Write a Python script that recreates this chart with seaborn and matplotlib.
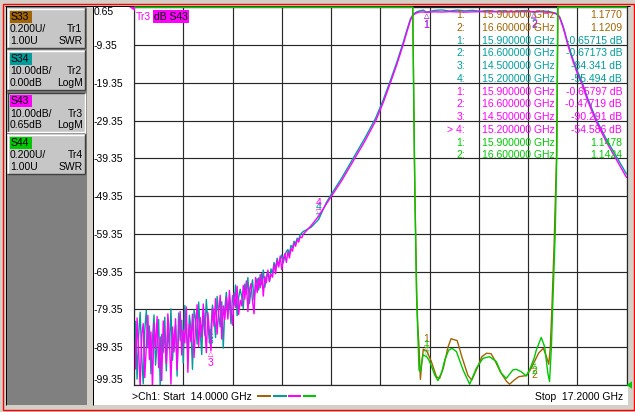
import numpy as np
import matplotlib
matplotlib.use("Agg")
import matplotlib.pyplot as plt
import seaborn as sns
from matplotlib.patches import Rectangle, Polygon

sns.set_theme(style="white")
plt.rcParams["font.family"] = ["Liberation Sans", "DejaVu Sans"]
plt.rcParams["font.size"] = 7.5

# ---------------------------------------------------------------- data
start_ghz, stop_ghz = 14.0, 17.2
noise_step_ghz = 0.01          # linear sweep, 14.00 .. 15.10 GHz

s43_noise_db = [
    -84.2, -95.1, -81.6, -90.3, -99.8, -86.0, -83.1, -97.4, -88.9, -80.9,
    -92.6, -85.3, -100.5, -83.0, -89.7, -81.2, -94.8, -86.6, -98.2, -82.4,
    -88.1, -93.7, -80.5, -86.9, -99.1, -84.0, -90.6, -81.8, -95.3, -85.2,
    -79.9, -91.4, -84.8, -88.2, -78.7, -96.0, -83.3, -87.9, -80.6, -92.1,
    -84.0, -78.1, -89.2, -81.5, -86.7, -77.9, -83.6, -90.8, -80.2, -85.4,
    -90.3, -79.0, -83.8, -76.5, -85.9, -80.1, -75.6, -87.2, -78.4, -82.0,
    -76.1, -81.9, -74.3, -79.6, -83.5, -75.0, -78.8, -73.2, -80.7, -76.9,
    -78.4, -73.0, -76.6, -71.8, -79.9, -74.2, -72.5, -77.1, -80.5, -70.9,
    -74.9, -71.0, -73.6, -69.8, -75.8, -70.7, -72.3, -68.9, -71.9, -70.0,
    -70.8, -67.4, -69.9, -66.3, -68.1, -65.2, -68.8, -66.0, -64.6, -66.9,
    -64.1, -65.7, -63.2, -63.9, -61.8, -62.6, -60.9, -61.5, -60.1, -60.4, -59.4,
]
s34_noise_db = [
    -93.0, -82.5, -97.8, -86.4, -80.1, -91.7, -99.0, -84.8, -79.6, -89.5,
    -83.7, -96.4, -87.2, -80.8, -94.1, -88.3, -82.0, -99.6, -85.9, -90.7,
    -81.4, -95.6, -84.3, -89.9, -79.2, -92.8, -86.1, -83.5, -97.0, -80.3,
    -87.6, -82.2, -93.5, -78.3, -85.7, -90.4, -80.9, -84.6, -95.2, -79.5,
    -81.8, -88.5, -77.4, -84.9, -91.3, -79.8, -86.2, -76.7, -82.9, -88.0,
    -84.3, -78.2, -81.1, -86.8, -75.9, -80.4, -84.0, -77.3, -89.6, -79.1,
    -74.8, -80.2, -77.0, -83.1, -75.7, -78.3, -72.9, -81.0, -76.2, -74.0,
    -76.0, -79.1, -72.6, -75.3, -70.9, -77.8, -74.4, -71.5, -76.9, -72.7,
    -71.2, -74.2, -70.1, -72.8, -68.9, -73.5, -70.6, -69.4, -72.0, -68.6,
    -69.8, -66.9, -68.5, -65.8, -67.7, -66.2, -64.9, -67.0, -65.1, -64.0,
    -63.5, -64.6, -62.4, -63.0, -61.3, -61.9, -60.5, -60.8, -59.6, -59.1, -58.7,
]

smooth_freq_ghz = [
    15.15, 15.20, 15.25, 15.283, 15.35, 15.434, 15.50, 15.571, 15.62, 15.666,
    15.71, 15.748, 15.775, 15.796, 15.81, 15.824, 15.84, 15.856, 15.88, 15.90,
    15.95, 16.00, 16.05, 16.10, 16.15, 16.20, 16.25, 16.30, 16.35, 16.40,
    16.45, 16.50, 16.55, 16.60, 16.65, 16.70, 16.72, 16.744, 16.765, 16.787,
    16.80, 16.819, 16.852, 16.88, 16.91, 16.949, 17.003, 17.068, 17.133, 17.20,
]
s43_smooth_db = [
    -57.2, -54.6, -51.4, -49.35, -45.2, -39.35, -34.8, -29.35, -24.5, -19.35,
    -14.2, -9.35, -5.6, -2.8, -1.6, -1.1, -0.8, -0.6, -0.6, -0.66,
    -0.55, -0.6, -0.5, -0.55, -0.62, -0.55, -0.5, -0.58, -0.52, -0.6,
    -0.5, -0.55, -0.5, -0.48, -0.55, -0.7, -0.85, -1.1, -2.0, -4.6,
    -6.4, -9.35, -13.6, -16.8, -19.6, -24.2, -29.6, -34.9, -39.6, -44.4,
]
s34_smooth_db = [
    -57.6, -55.5, -51.0, -48.8, -44.5, -38.6, -34.0, -28.6, -23.8, -18.7,
    -13.6, -8.8, -5.1, -2.4, -1.5, -0.9, -0.5, -0.3, -0.1, -0.66,
    -0.2, -0.05, -0.35, -0.1, -0.3, -0.15, -0.4, -0.2, -0.45, -0.25,
    -0.5, -0.3, -0.2, -0.67, -0.3, -0.5, -0.7, -0.95, -1.8, -4.2,
    -6.0, -8.9, -13.1, -16.2, -19.0, -23.6, -29.0, -34.2, -38.8, -43.5,
]

s33_freq_ghz = [
    14.00, 15.80, 15.811, 15.825, 15.838, 15.843, 15.852, 15.861, 15.870, 15.880,
    15.904, 15.932, 15.965, 15.986, 16.01, 16.04, 16.06, 16.08, 16.10, 16.13,
    16.17, 16.195, 16.23, 16.26, 16.29, 16.32, 16.345, 16.38, 16.42, 16.44,
    16.47, 16.50, 16.55, 16.575, 16.60, 16.63, 16.66, 16.68, 16.695, 16.705,
    16.715, 16.73, 16.745, 16.755, 16.77, 17.20,
]
s33_swr = [
    40.0, 6.0, 3.0, 2.0, 1.45, 1.33, 1.20, 1.03, 1.12, 1.19,
    1.177, 1.124, 1.044, 1.035, 1.09, 1.20, 1.245, 1.24, 1.235, 1.15,
    1.05, 1.026, 1.09, 1.15, 1.168, 1.166, 1.13, 1.07, 1.02, 1.004,
    1.026, 1.044, 1.05, 1.08, 1.121, 1.17, 1.194, 1.15, 1.11, 1.2,
    1.4, 1.75, 2.2, 3.0, 8.0, 40.0,
]
s44_freq_ghz = [
    14.00, 15.80, 15.811, 15.822, 15.835, 15.845, 15.852, 15.860, 15.878, 15.904,
    15.921, 15.954, 15.975, 16.00, 16.019, 16.045, 16.067, 16.095, 16.138, 16.181,
    16.224, 16.267, 16.31, 16.354, 16.387, 16.419, 16.462, 16.484, 16.517, 16.549,
    16.575, 16.60, 16.614, 16.646, 16.668, 16.689, 16.70, 16.712, 16.722, 16.737,
    16.748, 16.753, 16.765, 17.20,
]
s44_swr = [
    40.0, 6.0, 3.0, 2.2, 1.50, 1.25, 1.08, 1.07, 1.16, 1.148,
    1.124, 1.053, 1.023, 1.07, 1.132, 1.185, 1.194, 1.177, 1.08, 1.004,
    1.088, 1.141, 1.15, 1.124, 1.062, 1.035, 1.08, 1.083, 1.07, 1.048,
    1.09, 1.142, 1.185, 1.252, 1.203, 1.062, 1.018, 1.2, 1.45, 1.81,
    2.25, 3.0, 6.0, 40.0,
]

marker_freq_ghz = [15.9, 16.6, 14.5, 15.2]
s33_marker_swr = [1.1770, 1.1209]
s34_marker_db = [-0.65715, -0.67173, -84.341, -55.494]
s43_marker_db = [-0.65797, -0.47719, -90.291, -54.586]
s44_marker_swr = [1.1478, 1.1424]
s34_marker_below = [True, True, True, False]
s43_marker_below = [True, True, True, False]
s33_marker_below = [False, True]
s44_marker_below = [False, True]

ytick_values = [0.65, -9.35, -19.35, -29.35, -39.35, -49.35,
                -59.35, -69.35, -79.35, -89.35, -99.35]
ytick_labels = ["0.65", "-9.35", "-19.35", "-29.35", "-39.35", "-49.35",
                "-59.35", "-69.35", "-79.35", "-89.35", "-99.35"]
xtick_values = [14.0, 14.32, 14.64, 14.96, 15.28, 15.6,
                15.92, 16.24, 16.56, 16.88, 17.2]
swr_bottom, swr_top = 1.0, 3.0

trace_names = ["S33", "S34", "S43", "S44"]
trace_ids = ["Tr1", "Tr2", "Tr3", "Tr4"]
trace_scales = ["0.200U/", "10.00dB/", "10.00dB/", "0.200U/"]
trace_refs = ["1.00U", "0.00dB", "0.65dB", "1.00U"]
trace_formats = ["SWR", "LogM", "LogM", "SWR"]
trace_colors = ["#a06400", "#009c9c", "#ff00ff", "#00c800"]
active_trace = 2

# ---------------------------------------------------------------- figure
W, H = 635, 412
fig = plt.figure(figsize=(W / 100, H / 100), dpi=100, facecolor="#d4d0c8")

bg = fig.add_axes([0, 0, 1, 1], zorder=0)
bg.set_xlim(0, W); bg.set_ylim(H, 0); bg.set_axis_off()
fg = fig.add_axes([0, 0, 1, 1], zorder=10)
fg.set_xlim(0, W); fg.set_ylim(H, 0); fg.set_axis_off()

PX = 0.72  # one pixel in points


def rect(a, x0, y0, x1, y1, **kw):
    a.add_patch(Rectangle((x0, y0), x1 - x0, y1 - y0, **kw))


def seg(a, x0, y0, x1, y1, color, lw=PX, **kw):
    a.plot([x0, x1], [y0, y1], color=color, lw=lw, solid_capstyle="butt", **kw)


# window frame
rect(bg, 2.7, 3.9, 633.5, 409.8, fill=False, ec="#ff0000", lw=1.0)
rect(bg, 6, 6.3, 87, 404.5, fc="#808080", ec="none")
rect(bg, 93, 6.3, 628, 405, fc="white", ec="none")
seg(bg, 5, 5.7, 630, 5.7, "black")
seg(bg, 5.5, 5.7, 5.5, 404.5, "black")
seg(bg, 92.7, 6, 92.7, 405, "black")

# trace buttons
box_tops = [8.3, 50.3, 92.5, 134.3]
for i, top in enumerate(box_tops):
    x0, x1, y0, y1 = 7.3, 85.0, top, top + 40.0
    rect(bg, x0, y0, x1, y1, fc="#c6c6c6", ec="none")
    light, dark = ("#404040", "white") if i == active_trace else ("white", "#404040")
    seg(bg, x0, y0 + 0.5, x1, y0 + 0.5, light, lw=1.4 * PX)
    seg(bg, x0 + 0.5, y0, x0 + 0.5, y1, light, lw=1.4 * PX)
    seg(bg, x0, y1 - 0.5, x1, y1 - 0.5, dark, lw=1.4 * PX)
    seg(bg, x1 - 0.5, y0, x1 - 0.5, y1, dark, lw=1.4 * PX)
    rect(bg, 10, top + 2.2, 32, top + 14.5, fc=trace_colors[i], ec="none")
    bg.text(10.6, top + 8.6, trace_names[i], va="center", ha="left", color="black")
    bg.text(10, top + 21, trace_scales[i], va="center", ha="left", color="black")
    bg.text(82.5, top + 21, trace_ids[i], va="center", ha="right", color="black")
    bg.text(10, top + 32.5, trace_refs[i], va="center", ha="left", color="black")
    bg.text(82.5, top + 32.5, trace_formats[i], va="center", ha="right", color="black")

# ---------------------------------------------------------------- plot area
L, R, T, B = 134.0, 626.5, 7.3, 385.0
ax = fig.add_axes([L / W, (H - B) / H, (R - L) / W, (B - T) / H], zorder=2)
ax.set_facecolor("white")
ax.set_xlim(start_ghz, stop_ghz)
ax.set_ylim(ytick_values[-1], ytick_values[0])
ax.set_xticks(xtick_values, labels=[""] * len(xtick_values))
ax.set_yticks(ytick_values, labels=ytick_labels)
ax.tick_params(axis="both", length=0)
ax.tick_params(axis="y", pad=28.8, labelsize=7.5, labelcolor="black")
for lab in ax.get_yticklabels():
    lab.set_horizontalalignment("left")
    if lab.get_text() == ytick_labels[0]:
        lab.set_verticalalignment("top")
    elif lab.get_text() == ytick_labels[-1]:
        lab.set_verticalalignment("bottom")
ax.grid(True, color="#282828", lw=0.9 * PX * 1.3)
for s in ax.spines.values():
    s.set_color("#282828")
    s.set_linewidth(1.2 * PX)
ax.set_xlabel(""); ax.set_ylabel("")

noise_freq = np.round(start_ghz + noise_step_ghz * np.arange(len(s43_noise_db)), 2)
f_db = np.concatenate([noise_freq, smooth_freq_ghz])
s43_db = np.concatenate([s43_noise_db, s43_smooth_db])
s34_db = np.concatenate([s34_noise_db, s34_smooth_db])

ax2 = ax.twinx()
ax2.set_ylim(swr_bottom, swr_top)
ax2.set_yticks([])
for s in ax2.spines.values():
    s.set_visible(False)

# analyser clips off-screen SWR to the graticule edge
s33_disp = np.clip(np.array(s33_swr), swr_bottom, swr_top)
s44_disp = np.clip(np.array(s44_swr), swr_bottom, swr_top)

sns.lineplot(x=f_db, y=s34_db, ax=ax, color=trace_colors[1], lw=1.0,
             estimator=None, sort=False, legend=False)
sns.lineplot(x=f_db, y=s43_db, ax=ax, color=trace_colors[2], lw=1.0,
             estimator=None, sort=False, legend=False)
sns.lineplot(x=s33_freq_ghz, y=s33_disp, ax=ax2, color=trace_colors[0], lw=1.0,
             estimator=None, sort=False, legend=False, clip_on=False)
sns.lineplot(x=s44_freq_ghz, y=s44_disp, ax=ax2, color=trace_colors[3], lw=1.0,
             estimator=None, sort=False, legend=False, clip_on=False)
ax.set_xlabel(""); ax.set_ylabel(""); ax2.set_ylabel("")
ax.set_xlim(start_ghz, stop_ghz)


def put_markers(axis, freqs, vals, below, color):
    for k, (f, v, b) in enumerate(zip(freqs, vals, below)):
        sgn = -1 if b else 1
        glyph = "\u25b3" if b else "\u25bd"
        axis.annotate(glyph, (f, v), xytext=(0, sgn * 2.6), textcoords="offset points",
                      ha="center", va="center", fontsize=5, color=color,
                      family=["DejaVu Sans"])
        axis.annotate(str(k + 1), (f, v), xytext=(0, sgn * 9.0), textcoords="offset points",
                      ha="center", va="center", fontsize=7.5, color=color)


put_markers(ax, marker_freq_ghz, s34_marker_db, s34_marker_below, trace_colors[1])
put_markers(ax, marker_freq_ghz, s43_marker_db, s43_marker_below, trace_colors[2])
put_markers(ax2, marker_freq_ghz[:2], s33_marker_swr, s33_marker_below, trace_colors[0])
put_markers(ax2, marker_freq_ghz[:2], s44_marker_swr, s44_marker_below, trace_colors[3])

# ---------------------------------------------------------------- marker table


def fmt_db(v):
    ip = int(abs(v))
    dec = 5 if ip == 0 else 5 - len(str(ip))
    return f"{v:.{dec}f} dB"


rows = []
for k, v in enumerate(s33_marker_swr):
    rows.append((f"{k + 1}:", marker_freq_ghz[k], f"{v:.4f}", trace_colors[0]))
for k, v in enumerate(s34_marker_db):
    rows.append((f"{k + 1}:", marker_freq_ghz[k], fmt_db(v), trace_colors[1]))
for k, v in enumerate(s43_marker_db):
    idx = f"> {k + 1}:" if k == len(s43_marker_db) - 1 else f"{k + 1}:"
    rows.append((idx, marker_freq_ghz[k], fmt_db(v), trace_colors[2]))
for k, v in enumerate(s44_marker_swr):
    rows.append((f"{k + 1}:", marker_freq_ghz[k], f"{v:.4f}", trace_colors[3]))

for r, (idx, f, val, col) in enumerate(rows):
    y = 15.0 + 12.75 * r
    fg.text(465, y, idx, ha="right", va="center", color=col)
    fg.text(481.5, y, f"{f:.6f} GHz", ha="left", va="center", color=col)
    fg.text(622, y, val, ha="right", va="center", color=col)

# trace title and reference indicators
fg.text(135.8, 16.6, trace_ids[active_trace], ha="left", va="center", color=trace_colors[2])
fg.text(154.0, 16.6, "dB " + trace_names[active_trace], ha="left", va="center", color="black",
        bbox=dict(boxstyle="square,pad=0.12", fc=trace_colors[2], ec="none"))
fg.add_patch(Polygon([(129.3, 7.3), (134.6, 7.3), (134.6, 11.0)], closed=True,
                     fc=trace_colors[2], ec="none"))
fg.add_patch(Polygon([(626.5, 385), (632, 381.3), (632, 388.7)], closed=True,
                     fc=trace_colors[3], ec="none"))

# bottom status line
fg.text(131.5, 396.5, f">Ch1: Start  {start_ghz:.4f} GHz", ha="left", va="center", color="black")
fg.text(623.5, 396.5, f"Stop  {stop_ghz:.4f} GHz", ha="right", va="center", color="black")
dash_x = [(257, 271), (272.5, 286.5), (288, 300.5), (302.5, 316)]
dash_cols = [trace_colors[0], trace_colors[1], trace_colors[2], trace_colors[3]]
for (xa, xb), c in zip(dash_x, dash_cols):
    seg(fg, xa, 396.2, xb, 396.2, c, lw=2 * PX)

fig.savefig("out.png", dpi=100, facecolor=fig.get_facecolor())
